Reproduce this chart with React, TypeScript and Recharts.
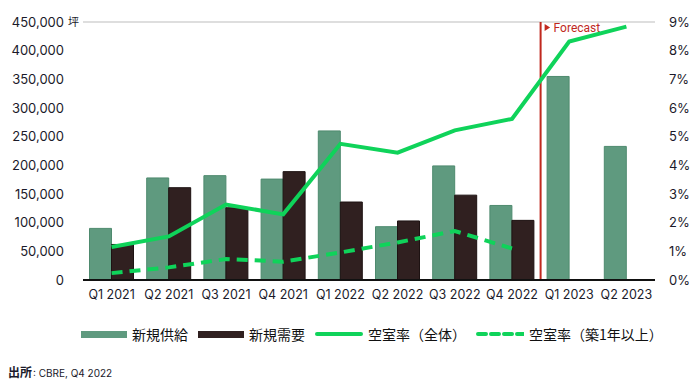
import {
  ComposedChart,
  Bar,
  Line,
  XAxis,
  YAxis,
  CartesianGrid,
  ReferenceLine,
} from "recharts";

const quarters = [
  "Q1 2021",
  "Q2 2021",
  "Q3 2021",
  "Q4 2021",
  "Q1 2022",
  "Q2 2022",
  "Q3 2022",
  "Q4 2022",
  "Q1 2023",
  "Q2 2023",
];
// 坪
const newSupply = [90000, 178000, 182000, 176000, 260000, 93000, 199000, 130000, 355000, 233000];
const newDemand = [62000, 161000, 126000, 189000, 136000, 103000, 148000, 104000, null, null];
// %
const vacancyAll = [1.15, 1.52, 2.63, 2.29, 4.75, 4.44, 5.22, 5.62, 8.32, 8.84];
const vacancyOld = [0.24, 0.44, 0.73, 0.64, 0.96, 1.31, 1.71, 1.1, null, null];

const leftTicks = [0, 50000, 100000, 150000, 200000, 250000, 300000, 350000, 400000, 450000];
const rightTicks = [0, 1, 2, 3, 4, 5, 6, 7, 8, 9];
const forecastStart = "Q1 2023";

const data = quarters.map((q, i) => ({
  q,
  supply: newSupply[i],
  demand: newDemand[i],
  vacAll: vacancyAll[i],
  vacOld: vacancyOld[i],
}));

const SUPPLY = "#5f9a7f";
const DEMAND = "#302020";
const GREEN = "#0fd35a";
const RED = "#c0281e";
const FONT = "Inter, 'Noto Sans', sans-serif";
const CJK = "'Noto Sans CJK JP', sans-serif";

const LeftTick = ({ x, y, payload }: any) => (
  <g>
    <text x={x} y={y} dy={4.5} textAnchor="end" fontSize={13} fill="#1a1a2a" fontFamily={FONT}>
      {payload.value.toLocaleString("en-US")}
    </text>
    {payload.value === 450000 && (
      <text x={x + 4} y={y} dy={4} fontSize={11} fill="#1a1a2a" fontFamily={CJK}>
        坪
      </text>
    )}
  </g>
);

const ForecastLabel = ({ viewBox }: any) => {
  const x = viewBox.x + 4;
  const y = viewBox.y;
  return (
    <g>
      <polygon points={`${x},${y + 2} ${x + 5.5},${y + 5.5} ${x},${y + 9}`} fill={RED} />
      <text x={x + 9} y={y + 10} fontSize={12} fill={RED} fontFamily="Roboto, sans-serif">
        Forecast
      </text>
    </g>
  );
};

const LegendItem = ({ swatch, label }: { swatch: React.ReactNode; label: string }) => (
  <div style={{ display: "flex", alignItems: "center", marginRight: 10 }}>
    {swatch}
    <span style={{ marginLeft: 5, fontSize: 14, fontFamily: CJK, color: "#111" }}>{label}</span>
  </div>
);

export default function App() {
  return (
    <div
      style={{
        position: "fixed",
        left: 0,
        top: 0,
        width: 700,
        height: 383,
        background: "#fff",
        overflow: "hidden",
      }}
    >
      <ComposedChart
        width={700}
        height={302}
        data={data}
        margin={{ top: 22, right: 0, bottom: 0, left: 0 }}
        barCategoryGap={6.5}
        barGap={0}
      >
        <CartesianGrid vertical={false} stroke="#bdbdbd" strokeWidth={1.2} />
        <XAxis
          dataKey="q"
          height={22}
          axisLine={{ stroke: "#111", strokeWidth: 2 }}
          tickLine={false}
          tickSize={0}
          tickMargin={10}
          interval={0}
          tick={{ fontSize: 12.5, fill: "#1a1a2a", fontFamily: FONT }}
        />
        <YAxis
          yAxisId="left"
          width={83}
          domain={[0, 450000]}
          ticks={leftTicks}
          axisLine={false}
          tickLine={false}
          tickSize={0}
          tickMargin={19}
          tick={<LeftTick />}
        />
        <YAxis
          yAxisId="right"
          orientation="right"
          width={45}
          domain={[0, 9]}
          ticks={rightTicks}
          axisLine={false}
          tickLine={false}
          tickSize={0}
          tickMargin={14}
          tickFormatter={(v) => `${v}%`}
          tick={{ fontSize: 13, fill: "#1a1a2a", fontFamily: FONT }}
        />
        <Bar yAxisId="left" dataKey="supply" fill={SUPPLY} stroke="#4e8a6e" isAnimationActive={false} />
        <Bar yAxisId="left" dataKey="demand" fill={DEMAND} stroke="#1d1212" isAnimationActive={false} />
        <ReferenceLine
          yAxisId="left"
          x={forecastStart}
          position="start"
          stroke={RED}
          strokeWidth={2}
          label={<ForecastLabel />}
        />
        <Line
          yAxisId="right"
          dataKey="vacAll"
          stroke={GREEN}
          strokeWidth={4}
          dot={false}
          isAnimationActive={false}
        />
        <Line
          yAxisId="right"
          dataKey="vacOld"
          stroke={GREEN}
          strokeWidth={4}
          strokeDasharray="11 7"
          dot={false}
          isAnimationActive={false}
        />
      </ComposedChart>
      <div
        style={{
          position: "absolute",
          left: 81,
          top: 324,
          display: "flex",
          alignItems: "center",
        }}
      >
        <LegendItem
          swatch={<div style={{ width: 46, height: 7, background: SUPPLY }} />}
          label="新規供給"
        />
        <LegendItem
          swatch={<div style={{ width: 46, height: 7, background: DEMAND }} />}
          label="新規需要"
        />
        <LegendItem
          swatch={<div style={{ width: 48, height: 4, background: GREEN, borderRadius: 2 }} />}
          label="空室率（全体）"
        />
        <LegendItem
          swatch={
            <svg width={48} height={6}>
              <line x1={2} y1={3} x2={48} y2={3} stroke={GREEN} strokeWidth={4} strokeDasharray="8 5" strokeLinecap="round" />
            </svg>
          }
          label="空室率（築1年以上）"
        />
      </div>
      <div
        style={{
          position: "absolute",
          left: 8,
          top: 363,
          fontFamily: CJK,
          color: "#1a1a2a",
          display: "flex",
          alignItems: "baseline",
        }}
      >
        <span style={{ fontSize: 12, fontWeight: 700 }}>出所</span>
        <span style={{ fontSize: 10, fontFamily: FONT, marginLeft: 1 }}>: CBRE, Q4 2022</span>
      </div>
    </div>
  );
}
